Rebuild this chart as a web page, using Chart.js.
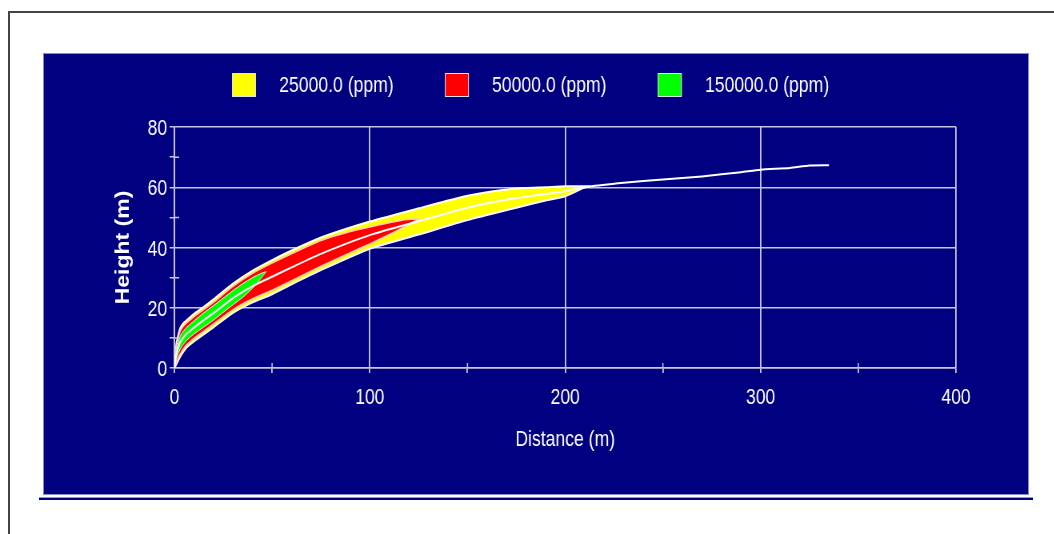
<!DOCTYPE html>
<html lang="en">
<head>
<meta charset="UTF-8">
<title>Plume height vs distance</title>
<script src="https://cdn.jsdelivr.net/npm/chart.js"></script>
<style>
    * { margin: 0; padding: 0; box-sizing: border-box; }

    body {
        width: 1054px;
        height: 534px;
        background: #ffffff;
        position: relative;
        overflow: hidden;
    }

    .frame-top {
        position: absolute; left: 8px; top: 11px;
        width: 1046px; height: 2px; background: #444444;
    }

    .frame-left {
        position: absolute; left: 8px; top: 11px;
        width: 2px; height: 523px; background: #444444;
    }

    .panel {
        position: absolute; left: 43px; top: 53px;
        width: 986px; height: 442px;
        background: #000080;
        border: 1px solid #8a8ad0;
    }

    .rule {
        position: absolute; left: 39px; top: 497px;
        width: 994px; height: 3px;
        background: #000080;
        border-top: 1px solid #9090d0;
    }

    canvas { display: block; }
</style>
</head>
<body>
    <div class="frame-top"></div>
    <div class="frame-left"></div>
    <div class="panel">
        <!-- drawn 1230 wide and shown at 984: the original output is horizontally narrowed -->
        <canvas id="plumeChart" width="1230" height="440" style="width:984px;height:440px"></canvas>
    </div>
    <div class="rule"></div>

<script>
    // concentration bands (legend order)
    const seriesLabels = ['25000.0 (ppm)', '50000.0 (ppm)', '150000.0 (ppm)'];
    const bandColors = ['#ffff00', '#ff0000', '#00ff00'];

    // 25000 ppm envelope
    const yellowDist   = [0, 1, 2, 3, 4.5, 6, 8, 10, 15, 20, 30, 40, 50, 60, 75, 100, 125, 150, 175, 190, 200, 211];
    const yellowTop    = [0, 8, 11, 13.3, 14.8, 15.7, 16.8, 18, 20.3, 22.8, 28, 32.3, 35.8, 39, 43.3, 48.6, 53, 57.2, 59.6, 60, 60.3, 60.3];
    const yellowBottom = [0, 1.2, 2.5, 3.8, 5.3, 6.6, 7.8, 8.8, 11.2, 13.5, 18.3, 21.8, 24.5, 27.8, 32.5, 39.6, 44.3, 49.1, 53.2, 55.6, 57, 60.3];

    // 50000 ppm envelope
    const redDist   = [0, 1, 2, 3, 4.5, 6, 8, 10, 15, 20, 30, 40, 50, 60, 75, 90, 100, 110, 118, 125];
    const redTop    = [0, 7, 10, 12.3, 13.8, 14.8, 15.9, 17, 19.4, 21.8, 27.1, 31.4, 34.8, 37.9, 42.3, 45.3, 46.8, 48.2, 49.2, 49.5];
    const redBottom = [0, 1.8, 3.3, 4.7, 6.2, 7.5, 8.7, 9.8, 12.2, 14.6, 19.4, 23, 25.8, 29, 33.8, 38.3, 41.2, 44.3, 47, 49.5];

    // 150000 ppm envelope
    const greenDist   = [0, 1, 2, 3, 4.5, 6, 8, 10, 15, 20, 25, 30, 35, 40, 44, 47];
    const greenTop    = [0, 5.5, 8.5, 10.6, 12.2, 13.3, 14.5, 15.6, 18.3, 20.7, 23.2, 25.7, 28, 30, 31.3, 32];
    const greenBottom = [0, 2.8, 4.8, 6.3, 7.8, 9, 10.2, 11.3, 13.6, 15.9, 18.5, 21, 23.5, 26.5, 29.5, 32];

    // plume centreline
    const centerDist = [0, 1, 2, 3, 4.5, 6, 8, 10, 15, 20, 30, 40, 50, 60, 75, 100, 125, 150, 175, 200, 212, 230, 250, 270, 290, 300, 315, 325, 335];
    const centerH    = [0, 4.5, 6.8, 8.6, 10, 11.2, 12.3, 13.4, 15.9, 18.2, 23.2, 27.2, 30.3, 33.4, 37.9, 44.1, 48.7, 53.2, 56.4, 58.7, 60.2, 61.5, 62.6, 63.6, 65, 65.8, 66.4, 67.2, 67.3];

    const xTicks = [0, 100, 200, 300, 400];
    const yTicks = [0, 20, 40, 60, 80];

    const fontFamily = "'Liberation Sans', Arial, sans-serif";
    const gridColor = '#c8c8dc';

    // closed outline: along the top edge, then back along the bottom edge
    function band(dist, top, bottom) {
        let pts = dist.map((d, i) => ({ x: d, y: top[i] }));
        for (let i = dist.length - 1; i >= 0; i--) {
            pts.push({ x: dist[i], y: bottom[i] });
        }
        return pts;
    }

    const bandLegend = {
        id: 'bandLegend',
        afterDraw(chart) {
            const ctx = chart.ctx;
            const xs = chart.scales.x, ys = chart.scales.y;
            ctx.save();

            // minor ticks crossing into the plot
            ctx.strokeStyle = gridColor;
            ctx.lineWidth = 1.5;
            ctx.beginPath();
            [50, 150, 250, 350].forEach(v => {
                const px = xs.getPixelForValue(v);
                ctx.moveTo(px, ys.bottom);
                ctx.lineTo(px, ys.bottom - 5);
            });
            [10, 30, 50, 70].forEach(v => {
                const py = ys.getPixelForValue(v);
                ctx.moveTo(xs.left, py);
                ctx.lineTo(xs.left + 6, py);
            });
            ctx.stroke();

            // legend row
            ctx.font = '22px ' + fontFamily;
            const boxW = 30, boxH = 24, gap = 29, spacing = 64;
            let x = 235;
            const y = 19;
            seriesLabels.forEach((t, i) => {
                ctx.fillStyle = bandColors[i];
                ctx.fillRect(x, y, boxW, boxH);
                ctx.strokeStyle = '#e0e0f0';
                ctx.lineWidth = 1;
                ctx.strokeRect(x + 0.5, y + 0.5, boxW - 1, boxH - 1);
                ctx.fillStyle = '#ffffff';
                ctx.textBaseline = 'middle';
                ctx.fillText(t, x + boxW + gap, y + boxH / 2 + 1);
                x += boxW + gap + ctx.measureText(t).width + spacing;
            });
            ctx.restore();
        }
    };

    const ctx = document.getElementById('plumeChart').getContext('2d');
    new Chart(ctx, {
        type: 'line',
        data: {
            datasets: [
                {
                    label: seriesLabels[0],
                    data: band(yellowDist, yellowTop, yellowBottom),
                    backgroundColor: bandColors[0],
                    borderColor: '#ffffff',
                    borderWidth: 2,
                    fill: 'shape',
                    order: 3
                },
                {
                    label: seriesLabels[1],
                    data: band(redDist, redTop, redBottom),
                    backgroundColor: bandColors[1],
                    borderColor: '#ffc8c8',
                    borderWidth: 1.5,
                    fill: 'shape',
                    order: 2
                },
                {
                    label: seriesLabels[2],
                    data: band(greenDist, greenTop, greenBottom),
                    backgroundColor: bandColors[2],
                    borderColor: '#d8ffd8',
                    borderWidth: 1,
                    fill: 'shape',
                    order: 1
                },
                {
                    label: 'centreline',
                    data: centerDist.map((d, i) => ({ x: d, y: centerH[i] })),
                    borderColor: '#ffffff',
                    borderWidth: 2,
                    fill: false,
                    order: 0
                }
            ]
        },
        options: {
            responsive: false,
            animation: false,
            events: [],
            elements: {
                point: { radius: 0 },
                line: { tension: 0.2 }
            },
            layout: {
                padding: { left: 0, top: 73, right: 90, bottom: 0 }
            },
            plugins: {
                legend: { display: false },
                tooltip: { enabled: false }
            },
            scales: {
                x: {
                    type: 'linear',
                    min: 0,
                    max: 400,
                    afterFit: s => { s.height = 126; },
                    ticks: {
                        stepSize: 50,
                        autoSkip: false,
                        maxRotation: 0,
                        color: '#ffffff',
                        padding: 12,
                        font: { family: fontFamily, size: 22 },
                        callback: v => xTicks.includes(v) ? v : ''
                    },
                    grid: {
                        color: c => c.tick && xTicks.includes(c.tick.value) ? gridColor : 'rgba(0,0,0,0)',
                        tickColor: gridColor,
                        tickLength: 5,
                        lineWidth: 1.8
                    },
                    border: { color: gridColor, width: 1.5 },
                    title: {
                        display: true,
                        text: 'Distance (m)',
                        color: '#ffffff',
                        font: { family: fontFamily, size: 22 },
                        padding: { top: 0, bottom: 41 }
                    }
                },
                y: {
                    min: 0,
                    max: 80,
                    afterFit: s => { s.width = 163; },
                    ticks: {
                        stepSize: 10,
                        autoSkip: false,
                        color: '#ffffff',
                        padding: 3,
                        labelOffset: 2,
                        font: { family: fontFamily, size: 22 },
                        callback: v => yTicks.includes(v) ? v : ''
                    },
                    grid: {
                        color: c => c.tick && yTicks.includes(c.tick.value) ? gridColor : 'rgba(0,0,0,0)',
                        tickColor: gridColor,
                        tickLength: 6,
                        lineWidth: 1.5
                    },
                    border: { color: gridColor, width: 1.8 },
                    title: {
                        display: true,
                        text: 'Height (m)',
                        color: '#ffffff',
                        font: { family: fontFamily, size: 23, weight: 'bold' },
                        padding: { top: 86, bottom: 0 }
                    }
                }
            }
        },
        plugins: [bandLegend]
    });
</script>
</body>
</html>
